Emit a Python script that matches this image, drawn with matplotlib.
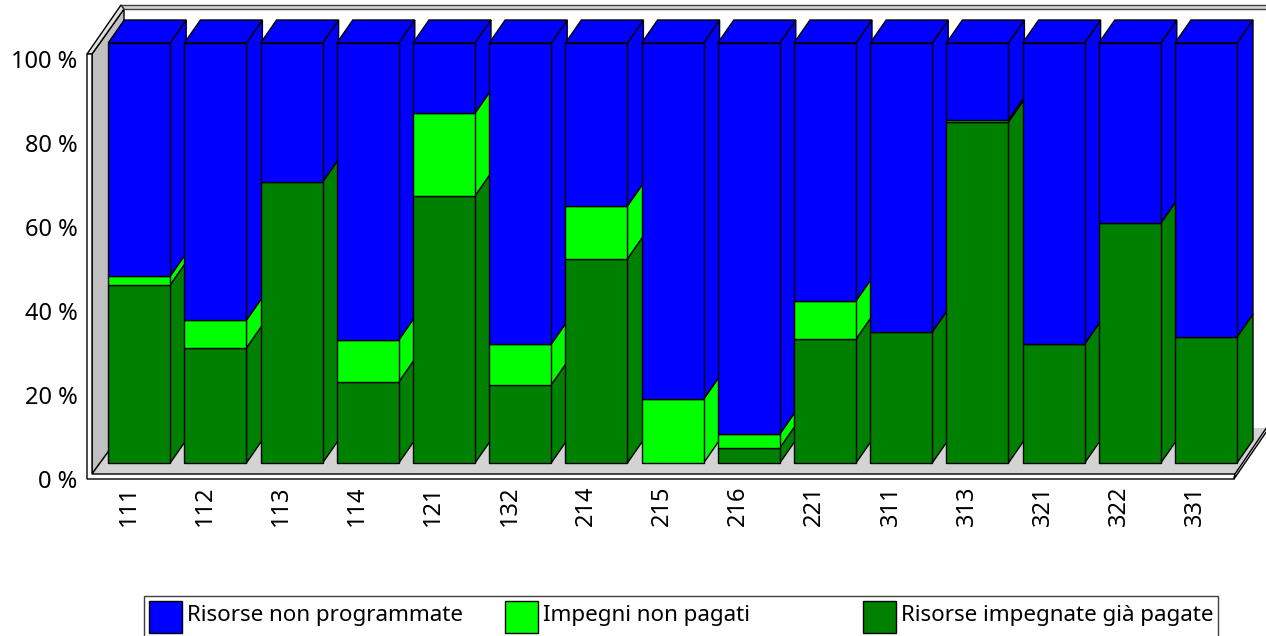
import matplotlib
matplotlib.use("Agg")
import matplotlib.pyplot as plt
from matplotlib.patches import Polygon, Rectangle
from matplotlib.transforms import ScaledTranslation

codes = ["111", "112", "113", "114", "121", "132", "214", "215", "216", "221", "311", "313", "321", "322", "331"]
paid = [42.4, 27.4, 66.9, 19.3, 63.6, 18.6, 48.6, 0, 3.6, 29.5, 31.2, 81.2, 28.3, 57.1, 30.0]
unpaid = [2.1, 6.6, 0, 10.0, 19.7, 9.7, 12.6, 15.2, 3.3, 9.1, 0, 0.5, 0, 0, 0]
not_prog = [55.5, 66.0, 33.1, 70.7, 16.7, 71.7, 38.8, 84.8, 93.1, 61.4, 68.8, 18.3, 71.7, 42.9, 70.0]
y_ticks = [0, 20, 40, 60, 80, 100]

series_names = ["Risorse non programmate", "Impegni non pagati", "Risorse impegnate già pagate"]
series_colors = ["#0000FF", "#00FF00", "#008000"]

W, H = 1266, 636
FONT = "Noto Sans"
FS = 16.1
TICK_FS = 17

fig = plt.figure(figsize=(W / 100, H / 100), dpi=100)


def px(x, y):
    return x / W, 1 - y / H


def frame_poly(points, face, edge="black", lw=1.0, z=-5):
    fig.add_artist(Polygon([px(*p) for p in points], closed=True, facecolor=face, edgecolor=edge,
                           linewidth=lw, transform=fig.transFigure, zorder=z))


# box walls and floor
frame_poly([(92, 54), (124, 9), (124, 430), (92, 474)], "#C0C0C0")
frame_poly([(87, 54), (121, 5), (124, 9), (92, 54)], "#E0E0E0")
frame_poly([(121, 5), (1270, 5), (1270, 9), (124, 9)], "#D3D3D3", edge="#404040")
frame_poly([(92, 474), (1235, 474), (1266, 428), (124, 428)], "#D3D3D3", edge="none")
frame_poly([(92, 474), (124, 430)], "none", z=-4)
frame_poly([(87, 54), (92, 54), (92, 474), (1235, 474), (1234, 479), (87, 479)], "white", z=-3)
frame_poly([(1235, 474), (1269, 424), (1269, 428), (1234, 479)], "#E0E0E0", z=-3)

# front plane of the axes: 0 % at y=479 px, 100 % at y=59 px
left, right, bottom, top = 87, 1234, 479, 59
ax = fig.add_axes([left / W, 1 - bottom / H, (right - left) / W, (bottom - top) / H])
ax.patch.set_alpha(0)
for s in ax.spines.values():
    s.set_visible(False)

step = 76.2
ax.set_xlim((left - 139.2) / step, (right - 139.2) / step)
ax.set_ylim(0, 100)
width = 62 / step
depth_x = 16 / step
depth_y = 23 / 4.2

# bars sit 16 px above the front edge
plane = ax.transData + ScaledTranslation(0, 16 / 100, fig.dpi_scale_trans)

for i in range(len(codes)):
    x0 = i - width / 2
    x1 = i + width / 2
    base = 0
    z = 2 + i
    stack = [(paid[i], series_colors[2]), (unpaid[i], series_colors[1]), (not_prog[i], series_colors[0])]
    for val, col in stack:
        if val <= 0:
            continue
        t = base + val
        ax.add_patch(Polygon([(x1, base), (x1 + depth_x, base + depth_y), (x1 + depth_x, t + depth_y), (x1, t)],
                             facecolor=col, edgecolor="black", linewidth=1.0, transform=plane, zorder=z, clip_on=False))
        ax.bar(i, val, width=width, bottom=base, color=col, edgecolor="black", linewidth=1.0,
               transform=plane, zorder=z, clip_on=False)
        base = t
    ax.add_patch(Polygon([(x0, base), (x0 + depth_x, base + depth_y), (x1 + depth_x, base + depth_y), (x1, base)],
                         facecolor=series_colors[0], edgecolor="black", linewidth=1.0, transform=plane,
                         zorder=z, clip_on=False))

ax.set_yticks(y_ticks)
ax.set_yticklabels([f"{v} %" for v in y_ticks], fontname=FONT, fontsize=TICK_FS)
ax.set_xticks([i - 0.14 for i in range(len(codes))])
ax.set_xticklabels(codes, rotation=90, fontname=FONT, fontsize=TICK_FS)
ax.tick_params(axis="both", length=0)
ax.tick_params(axis="x", pad=5)
ax.tick_params(axis="y", pad=7)

# legend, its lower edge runs off the picture
fig.add_artist(Rectangle(px(144, 640), 1074 / W, 44 / H, facecolor="white", edgecolor="#404040", linewidth=1.0,
                         transform=fig.transFigure))
for name, col, sx in zip(series_names, series_colors, [149, 505, 863]):
    fig.add_artist(Rectangle(px(sx, 633), 33 / W, 32 / H, facecolor=col, edgecolor="black", linewidth=1.0,
                             transform=fig.transFigure))
    fig.text(*px(sx + 38, 615), name, va="center", ha="left", fontname=FONT, fontsize=FS)

fig.savefig("out.png", dpi=100)
